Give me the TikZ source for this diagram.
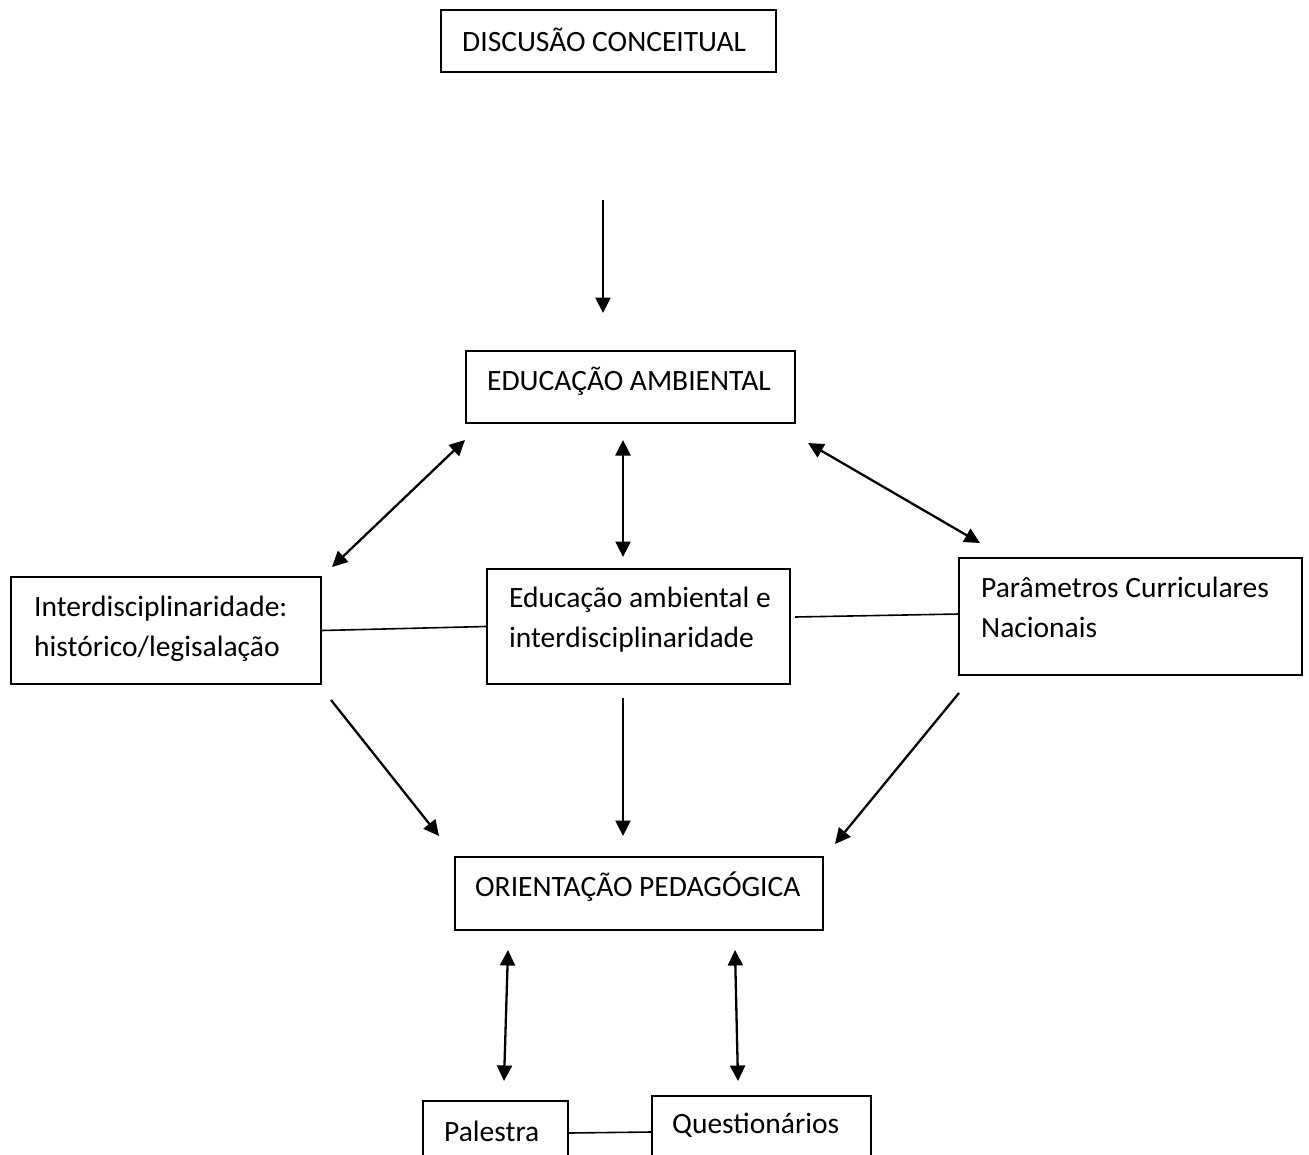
\documentclass[tikz,border=0pt]{standalone}
\usepackage{fontspec}
\setmainfont{Carlito}
\usetikzlibrary{arrows.meta}
\begin{document}
\begin{tikzpicture}[x=1pt,y=-1pt,
  box/.style={draw=black, line width=1.8pt, rectangle, inner sep=0pt},
  txt/.style={anchor=base west, inner sep=0pt, align=left, font=\fontsize{29.5}{40}\selectfont},
  con/.style={line width=2.3pt},
  tip/.style={},
  arr/.style={con, -{Triangle[length=15.5pt,width=15pt]}},
  darr/.style={con, {Triangle[length=15.5pt,width=15pt]}-{Triangle[length=15.5pt,width=15pt]}},
  plain/.style={line width=1.6pt}]
\clip (0,0) rectangle (1309,1154);
\fill[white] (0,0) rectangle (1309,1154);
% boxes
\node[box, minimum width=335pt, minimum height=62pt] (disc) at (608.5,41) {};
\node[box, minimum width=329pt, minimum height=72pt] (edu) at (630.5,387) {};
\node[box, minimum width=310pt, minimum height=107pt] (interd) at (166,630.5) {};
\node[box, minimum width=303pt, minimum height=115pt] (mid) at (638.5,626.5) {};
\node[box, minimum width=343pt, minimum height=117pt] (par) at (1130.5,616.5) {};
\node[box, minimum width=368pt, minimum height=73pt] (orient) at (639,893.5) {};
\node[box, minimum width=145pt, minimum height=64pt] (pal) at (495.5,1133) {};
\node[box, minimum width=219pt, minimum height=72pt] (quest) at (761.5,1132) {};
% texts (multi-line: anchor at the last line's baseline)
\node[txt] (discT) at (462,51) {DISCUSÃO CONCEITUAL};
\node[txt] (eduT) at (487,390) {EDUCAÇÃO AMBIENTAL};
\node[txt] (interdT) at (34,656) {Interdisciplinaridade:\\histórico/legisalação};
\node[txt] (midT) at (509,647) {Educação ambiental e\\interdisciplinaridade};
\node[txt] (parT) at (981,637) {Parâmetros Curriculares\\Nacionais};
\node[txt] (orientT) at (475,896) {ORIENTAÇÃO PEDAGÓGICA};
\node[txt] (palT) at (444,1141) {Palestra};
\node[txt] (questT) at (672,1133) {Questionários};
% arrow ends
\coordinate (a1s) at (603,200); \coordinate (a1e) at (603,313);
\coordinate (a2s) at (465,440); \coordinate (a2e) at (332,567);
\coordinate (a3s) at (623,440); \coordinate (a3e) at (623,557);
\coordinate (a4s) at (808,443); \coordinate (a4e) at (980,543);
\coordinate (a5s) at (331,700); \coordinate (a5e) at (439,836);
\coordinate (a6s) at (623,698); \coordinate (a6e) at (623,836);
\coordinate (a7s) at (959,693); \coordinate (a7e) at (835,844);
\coordinate (a8s) at (508,950); \coordinate (a8e) at (504,1081);
\coordinate (a9s) at (735,950); \coordinate (a9e) at (738,1081);
\coordinate (l2s) at (795,617); \coordinate (l2e) at (959,614);
% connectors
\draw[arr] (a1s) -- (a1e);
\draw[darr] (a2s) -- (a2e);
\draw[darr] (a3s) -- (a3e);
\draw[darr] (a4s) -- (a4e);
\draw[arr] (a5s) -- (a5e);
\draw[arr] (a6s) -- (a6e);
\draw[arr] (a7s) -- (a7e);
\draw[darr] (a8s) -- (a8e);
\draw[darr] (a9s) -- (a9e);
\draw[plain] (interd.east) -- (mid.west);
\draw[plain] (l2s) -- (l2e);
\draw[plain] (pal.east) -- (quest.west);
\end{tikzpicture}
\end{document}
